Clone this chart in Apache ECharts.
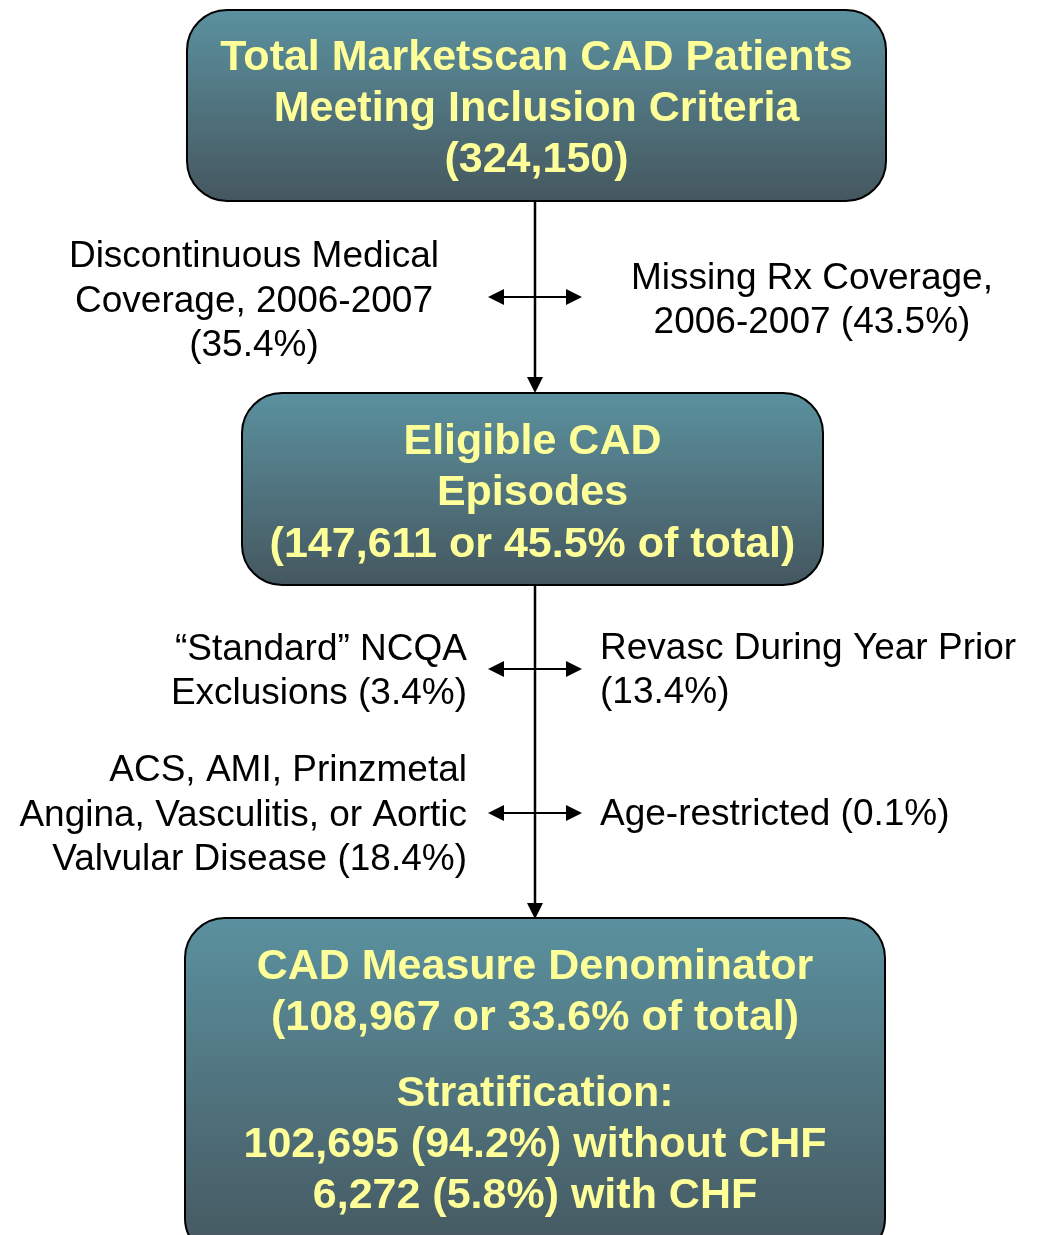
<!DOCTYPE html>
<html>
<head>
<meta charset="utf-8">
<script src="https://cdn.jsdelivr.net/npm/echarts@6/dist/echarts.min.js"></script>
<style>
    html, body { margin: 0; padding: 0; background: #fff; }
    #chart { width: 1039px; height: 1235px; }
</style>
</head>
<body>
<div id="chart"></div>
<script>
// box texts
const totalLines = ['Total Marketscan CAD Patients', 'Meeting Inclusion Criteria', '(324,150)'];
const eligibleLines = ['Eligible CAD', 'Episodes', '(147,611 or 45.5% of total)'];
const denomLines = ['CAD Measure Denominator', '(108,967 or 33.6% of total)', '',
    'Stratification:', '102,695 (94.2%) without CHF', '6,272 (5.8%) with CHF'];

// exclusion labels
const excl1Left = ['Discontinuous Medical', 'Coverage, 2006-2007', '(35.4%)'];
const excl1Right = ['Missing Rx Coverage,', '2006-2007 (43.5%)'];
const excl2Left = ['\u201cStandard\u201d NCQA', 'Exclusions (3.4%)'];
const excl2Right = ['Revasc During Year Prior', '(13.4%)'];
const excl3Left = ['ACS, AMI, Prinzmetal', 'Angina, Vasculitis, or Aortic', 'Valvular Disease (18.4%)'];
const excl3Right = ['Age-restricted (0.1%)'];

(function () {
    const chart = echarts.init(document.getElementById('chart'));
    const cx = 535;
    const boldFont = 'bold 43px "Liberation Sans", Arial, sans-serif';
    const normFont = '37px "Liberation Sans", Arial, sans-serif';
    const yellow = '#ffff99';
    const elements = [];

    function box(x, y, w, h, lines, firstY, step) {
        elements.push({
            type: 'rect',
            shape: { x: x, y: y, width: w, height: h, r: 40 },
            style: {
                fill: new echarts.graphic.LinearGradient(0, 0, 0, 1, [
                    { offset: 0, color: '#5b919f' },
                    { offset: 1, color: '#45575f' }
                ]),
                stroke: '#000',
                lineWidth: 2
            }
        });
        let ty = firstY;
        lines.forEach(function (t) {
            if (t === '') { ty += step * 0.5; return; }
            elements.push({
                type: 'text',
                style: {
                    text: t, x: x + w / 2, y: ty,
                    align: 'center', verticalAlign: 'middle',
                    font: boldFont, fill: yellow
                }
            });
            ty += step;
        });
    }

    function label(lines, x, firstY, step, align) {
        lines.forEach(function (t, i) {
            elements.push({
                type: 'text',
                style: {
                    text: t, x: x, y: firstY + i * step,
                    align: align, verticalAlign: 'middle',
                    font: normFont, fill: '#000'
                }
            });
        });
    }

    function vline(y1, y2) {
        elements.push({
            type: 'line',
            shape: { x1: cx, y1: y1, x2: cx, y2: y2 - 12 },
            style: { stroke: '#000', lineWidth: 2.5 }
        });
        elements.push({
            type: 'polygon',
            shape: { points: [[cx - 8, y2 - 16], [cx + 8, y2 - 16], [cx, y2]] },
            style: { fill: '#000' }
        });
    }

    function hArrow(y) {
        const x1 = 488, x2 = 582;
        elements.push({
            type: 'line',
            shape: { x1: x1 + 12, y1: y, x2: x2 - 12, y2: y },
            style: { stroke: '#000', lineWidth: 2 }
        });
        elements.push({
            type: 'polygon',
            shape: { points: [[x1, y], [x1 + 16, y - 8], [x1 + 16, y + 8]] },
            style: { fill: '#000' }
        });
        elements.push({
            type: 'polygon',
            shape: { points: [[x2, y], [x2 - 16, y - 8], [x2 - 16, y + 8]] },
            style: { fill: '#000' }
        });
    }

    vline(201, 393);
    vline(585, 919);
    hArrow(297);
    hArrow(669);
    hArrow(813);

    box(187, 10, 699, 191, totalLines, 58, 51);
    box(242, 393, 581, 192, eligibleLines, 442, 51.5);
    box(185, 918, 700, 340, denomLines, 967, 51);

    label(excl1Left, 254, 257, 44.5, 'center');
    label(excl1Right, 812, 279, 44, 'center');
    label(excl2Left, 467, 650, 44, 'right');
    label(excl2Right, 600, 649, 44, 'left');
    label(excl3Left, 467, 771, 44.5, 'right');
    label(excl3Right, 600, 815, 44, 'left');

    chart.setOption({
        animation: false,
        graphic: { elements: elements }
    });

    window.addEventListener('resize', chart.resize.bind(chart));
})();
</script>
</body>
</html>
